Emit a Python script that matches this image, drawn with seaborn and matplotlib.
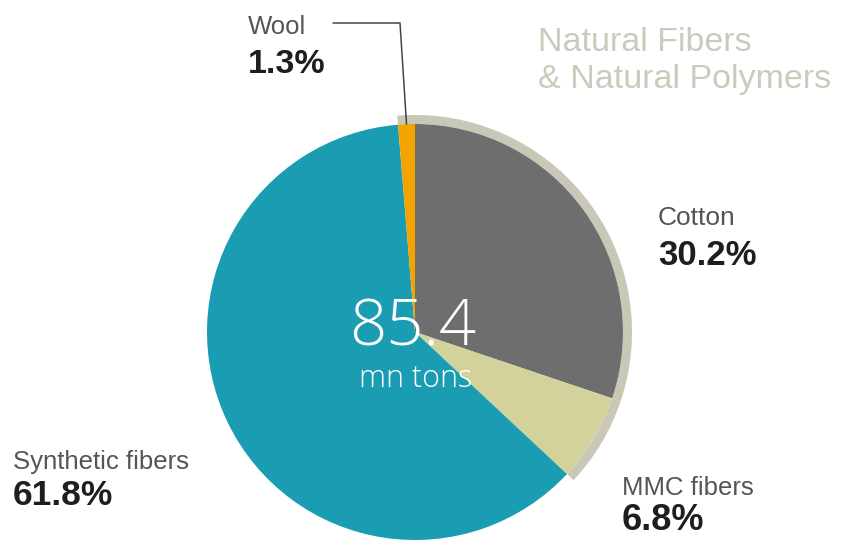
import numpy as np
import matplotlib
matplotlib.use("Agg")
import matplotlib.pyplot as plt
import seaborn as sns

# Global fibre production share, clockwise from 12 o'clock
categories = ["Cotton", "MMC fibers", "Synthetic fibers", "Wool"]
shares = [30.2, 6.8, 61.8, 1.3]
slice_colors = ["#6e6e6e", "#d3d29b", "#1a9cb2", "#f2a300"]
natural = [True, True, False, True]

total_label = "85.4"
total_unit = "mn tons"
group_title = ["Natural Fibers", "& Natural Polymers"]

sns.set_style("white")
plt.rcParams["font.family"] = ["Liberation Sans", "DejaVu Sans"]

W, H = 846, 540
fig = plt.figure(figsize=(W / 100, H / 100), dpi=100)
ax = fig.add_axes([0, 0, 1, 1])


def py(y):
    # convert a top-down pixel row into the axis' bottom-up coordinate
    return H - y


cx, cy, r = 415, py(332), 208

# outer band that groups the natural fibres
ring_colors = ["#c9c7b5" if n else "none" for n in natural]
ax.pie(shares, colors=ring_colors, startangle=90, counterclock=False,
       center=(cx, cy), radius=r + 9, frame=True,
       wedgeprops=dict(width=9, linewidth=0))

# main pie
wedges, _ = ax.pie(shares, colors=slice_colors, startangle=90, counterclock=False,
                   center=(cx, cy), radius=r, frame=True,
                   wedgeprops=dict(linewidth=0))
ax.set_xlim(0, W)
ax.set_ylim(0, H)
ax.set_aspect("equal")
ax.axis("off")

# leader line to the wool slice
wool = wedges[3]
mid = np.deg2rad((wool.theta1 + wool.theta2) / 2)
ex, ey = cx + r * np.cos(mid), cy + r * np.sin(mid)
ax.plot([333, 400, ex], [py(23), py(23), ey], color="#444444", lw=1.1,
        solid_joinstyle="miter")

label_c = "#555555"
value_c = "#1e1e1e"


def label(x, y_name, y_val, name, value, name_size, val_size):
    ax.text(x, py(y_name), name, fontsize=name_size, color=label_c,
            ha="left", va="baseline")
    ax.text(x, py(y_val), value, fontsize=val_size, color=value_c,
            ha="left", va="baseline", fontweight="bold")


label(248, 34, 73, categories[3], f"{shares[3]}%", 18.5, 24.5)
label(658, 225, 265, categories[0], f"{shares[0]}%", 19, 25)
label(622, 495, 530, categories[1], f"{shares[1]}%", 18.5, 26)
label(13, 469, 505, categories[2], f"{shares[2]}%", 18.5, 25.5)

# group heading
ax.text(538, py(51), group_title[0], fontsize=24.5, color="#cbcabd",
        ha="left", va="baseline")
ax.text(538, py(88), group_title[1], fontsize=24.5, color="#cbcabd",
        ha="left", va="baseline")

# total in the centre
center_font = ["Open Sans", "DejaVu Sans"]
ax.text(413, py(345), total_label, fontsize=47, color="white",
        ha="center", va="baseline", family=center_font, fontweight="light")
ax.text(416, py(387), total_unit, fontsize=22, color="white",
        ha="center", va="baseline", family=center_font, fontweight="light")

fig.savefig("out.png", dpi=100)
